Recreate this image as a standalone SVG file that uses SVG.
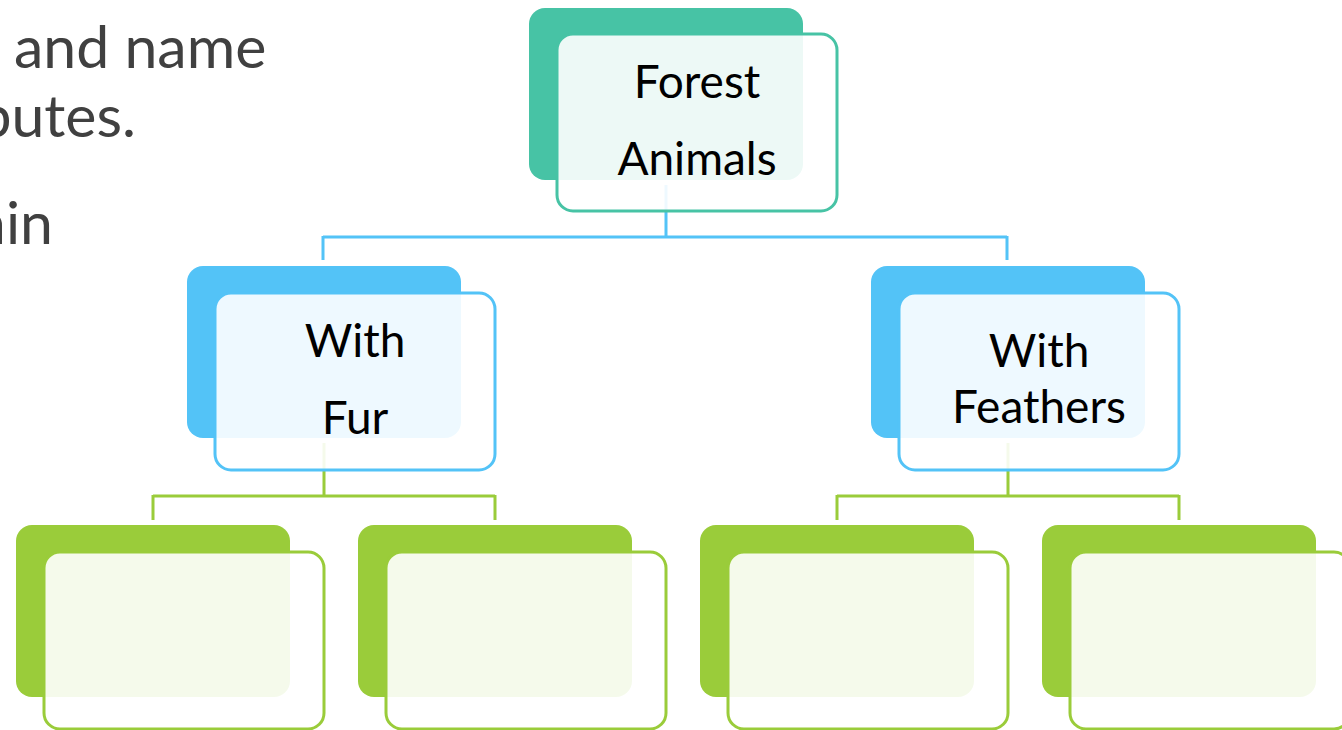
<svg xmlns="http://www.w3.org/2000/svg" width="1342" height="730" viewBox="0 0 1342 730">
<style>
.bg{fill:#fff}
.slide{font-family:Lato,"Liberation Sans",sans-serif;font-size:59px;fill:#404040}
.lbl{font-family:Lato,"Liberation Sans",sans-serif;font-size:46px;fill:#000;text-anchor:middle}
.back{stroke:none}
.front{fill:#fff;fill-opacity:0.9;stroke-width:3}
.teal .back{fill:#47C3A5}.teal .front{stroke:#47C3A5}
.blue .back{fill:#53C3F7}.blue .front{stroke:#53C3F7}
.green .back{fill:#9ACC3A}.green .front{stroke:#9ACC3A}
.cb{fill:none;stroke:#53C3F7;stroke-width:3}
.cg{fill:none;stroke:#9ACC3A;stroke-width:3}
</style>
<rect class="bg" x="0" y="0" width="1342" height="730"/>
<g id="slide-text">
<text class="slide" x="14" y="68">and name</text>
<text class="slide" x="136" y="137" text-anchor="end">butes.</text>
<text class="slide" x="53" y="244" text-anchor="end">ain</text>
</g>
<g id="connectors">
<path class="cb" d="M666,185 V237 M323,237 H1007 M323,236 V260 M1007,236 V260"/>
<path class="cg" d="M324,443 V496 M153,496 H495 M153,495 V520 M495,495 V520"/>
<path class="cg" d="M1008,443 V496 M837,496 H1179 M837,495 V520 M1179,495 V520"/>
</g>
<g id="node-forest-animals" class="teal">
<rect class="back" x="529" y="8" width="274" height="172" rx="16"/>
<rect class="front" x="557" y="34" width="280" height="177" rx="16"/>
<text class="lbl" x="697" y="98">Forest</text>
<text class="lbl" x="697" y="175">Animals</text>
</g>
<g id="node-with-fur" class="blue">
<rect class="back" x="187" y="266" width="274" height="172" rx="16"/>
<rect class="front" x="215" y="293" width="280" height="177" rx="16"/>
<text class="lbl" x="355" y="357">With</text>
<text class="lbl" x="355" y="434">Fur</text>
</g>
<g id="node-with-feathers" class="blue">
<rect class="back" x="871" y="266" width="274" height="172" rx="16"/>
<rect class="front" x="899" y="293" width="280" height="177" rx="16"/>
<text class="lbl" x="1039" y="367">With</text>
<text class="lbl" x="1039" y="423">Feathers</text>
</g>
<g id="node-fur-1" class="green">
<rect class="back" x="16" y="525" width="274" height="172" rx="16"/>
<rect class="front" x="44" y="552" width="280" height="177" rx="16"/>
</g>
<g id="node-fur-2" class="green">
<rect class="back" x="358" y="525" width="274" height="172" rx="16"/>
<rect class="front" x="386" y="552" width="280" height="177" rx="16"/>
</g>
<g id="node-feathers-1" class="green">
<rect class="back" x="700" y="525" width="274" height="172" rx="16"/>
<rect class="front" x="728" y="552" width="280" height="177" rx="16"/>
</g>
<g id="node-feathers-2" class="green">
<rect class="back" x="1042" y="525" width="274" height="172" rx="16"/>
<rect class="front" x="1070" y="552" width="280" height="177" rx="16"/>
</g>
</svg>
